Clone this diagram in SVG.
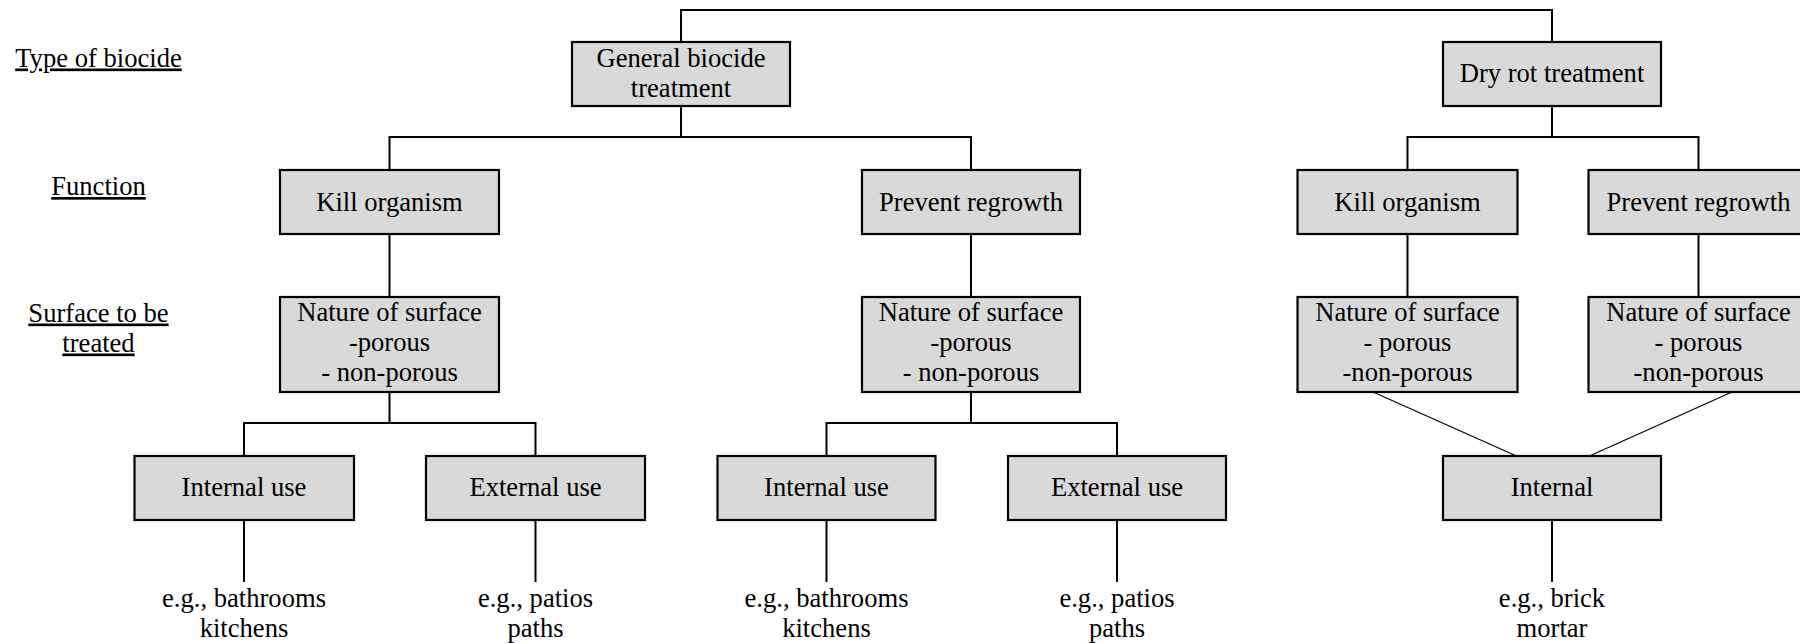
<svg xmlns="http://www.w3.org/2000/svg" width="1800" height="643" viewBox="0 0 1800 643">
<style>
  .box { fill: #d9d9d9; stroke: #000; stroke-width: 2.2; }
  .t { font-family: "Liberation Serif", "Times New Roman", serif; font-size: 26.6px; fill: #000; text-anchor: middle; }
  .lbl { text-decoration: underline; }
  .conn { fill: none; stroke: #000; stroke-width: 2; }
  .diag { fill: none; stroke: #000; stroke-width: 1.2; }
</style>
<rect width="1800" height="643" fill="#fff"/>

<g id="connectors">
  <path class="conn" d="M681,42 V10 H1552 V42"/>
  <path class="conn" d="M681,106 V137"/>
  <path class="conn" d="M389.5,170 V137 H971 V170"/>
  <path class="conn" d="M1552,106 V137"/>
  <path class="conn" d="M1407.5,170 V137 H1698.5 V170"/>
  <path class="conn" d="M389.5,234 V297"/>
  <path class="conn" d="M971,234 V297"/>
  <path class="conn" d="M1407.5,234 V297"/>
  <path class="conn" d="M1698.5,234 V297"/>
  <path class="conn" d="M389.5,392 V423"/>
  <path class="conn" d="M244,456 V423 H535.5 V456"/>
  <path class="conn" d="M971,392 V423"/>
  <path class="conn" d="M826.5,456 V423 H1117 V456"/>
  <path class="diag" d="M1373,392 L1516.5,456"/>
  <path class="diag" d="M1732,392 L1589.5,456"/>
  <path class="conn" d="M244,520 V582"/>
  <path class="conn" d="M535.5,520 V582"/>
  <path class="conn" d="M826.5,520 V582"/>
  <path class="conn" d="M1117,520 V582"/>
  <path class="conn" d="M1552,520 V582"/>
</g>

<g id="labels">
  <text class="t lbl" x="98.5" y="66.5">Type of biocide</text>
  <text class="t lbl" x="98.5" y="195">Function</text>
  <text class="t lbl" x="98.5" y="321.5">Surface to be</text>
  <text class="t lbl" x="98.5" y="351.5">treated</text>
</g>

<g id="general">
  <rect class="box" x="572" y="42" width="218" height="64"/>
  <text class="t" x="681" y="67">General biocide</text>
  <text class="t" x="681" y="97">treatment</text>
</g>
<g id="dryrot">
  <rect class="box" x="1443" y="42" width="218" height="64"/>
  <text class="t" x="1552" y="82">Dry rot treatment</text>
</g>

<g id="kill1">
  <rect class="box" x="280" y="170" width="219" height="64"/>
  <text class="t" x="389.5" y="211">Kill organism</text>
</g>
<g id="prevent1">
  <rect class="box" x="862" y="170" width="218" height="64"/>
  <text class="t" x="971" y="211">Prevent regrowth</text>
</g>
<g id="kill2">
  <rect class="box" x="1297.5" y="170" width="220" height="64"/>
  <text class="t" x="1407.5" y="211">Kill organism</text>
</g>
<g id="prevent2">
  <rect class="box" x="1588.5" y="170" width="220" height="64"/>
  <text class="t" x="1698.5" y="211">Prevent regrowth</text>
</g>

<g id="nature1">
  <rect class="box" x="280" y="297" width="219" height="95"/>
  <text class="t" x="389.5" y="321">Nature of surface</text>
  <text class="t" x="389.5" y="351">-porous</text>
  <text class="t" x="389.5" y="381">- non-porous</text>
</g>
<g id="nature2">
  <rect class="box" x="862" y="297" width="218" height="95"/>
  <text class="t" x="971" y="321">Nature of surface</text>
  <text class="t" x="971" y="351">-porous</text>
  <text class="t" x="971" y="381">- non-porous</text>
</g>
<g id="nature3">
  <rect class="box" x="1297.5" y="297" width="220" height="95"/>
  <text class="t" x="1407.5" y="321">Nature of surface</text>
  <text class="t" x="1407.5" y="351">- porous</text>
  <text class="t" x="1407.5" y="381">-non-porous</text>
</g>
<g id="nature4">
  <rect class="box" x="1588.5" y="297" width="220" height="95"/>
  <text class="t" x="1698.5" y="321">Nature of surface</text>
  <text class="t" x="1698.5" y="351">- porous</text>
  <text class="t" x="1698.5" y="381">-non-porous</text>
</g>

<g id="internal1">
  <rect class="box" x="134.5" y="456" width="219.5" height="64"/>
  <text class="t" x="244" y="496">Internal use</text>
</g>
<g id="external1">
  <rect class="box" x="426" y="456" width="219" height="64"/>
  <text class="t" x="535.5" y="496">External use</text>
</g>
<g id="internal2">
  <rect class="box" x="717.5" y="456" width="218" height="64"/>
  <text class="t" x="826.5" y="496">Internal use</text>
</g>
<g id="external2">
  <rect class="box" x="1008" y="456" width="218" height="64"/>
  <text class="t" x="1117" y="496">External use</text>
</g>
<g id="internal3">
  <rect class="box" x="1443" y="456" width="218" height="64"/>
  <text class="t" x="1552" y="496">Internal</text>
</g>

<g id="examples">
  <text class="t" x="244" y="607">e.g., bathrooms</text>
  <text class="t" x="244" y="637">kitchens</text>
  <text class="t" x="535.5" y="607">e.g., patios</text>
  <text class="t" x="535.5" y="637">paths</text>
  <text class="t" x="826.5" y="607">e.g., bathrooms</text>
  <text class="t" x="826.5" y="637">kitchens</text>
  <text class="t" x="1117" y="607">e.g., patios</text>
  <text class="t" x="1117" y="637">paths</text>
  <text class="t" x="1552" y="607">e.g., brick</text>
  <text class="t" x="1552" y="637">mortar</text>
</g>
</svg>
